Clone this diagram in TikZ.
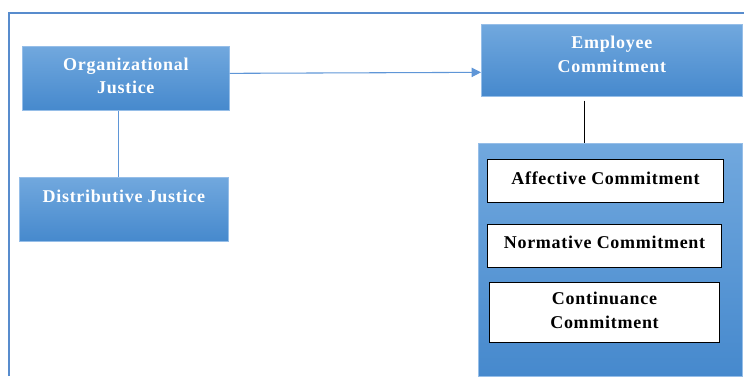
\documentclass[tikz,border=0pt]{standalone}
\usepackage{fontspec}
\setmainfont{Liberation Serif}
\usetikzlibrary{arrows.meta,positioning}
\definecolor{boxtop}{RGB}{113,168,222}
\definecolor{boxbottom}{RGB}{70,137,205}
\definecolor{boxedge}{RGB}{150,190,232}
\definecolor{framecol}{RGB}{88,140,205}
\definecolor{linkcol}{RGB}{95,150,215}
\newcommand{\boxfont}{\bfseries\fontsize{13.5}{17.8}\selectfont\addfontfeatures{LetterSpace=4}}
\tikzset{
  bluebox/.style={rectangle, top color=boxtop, bottom color=boxbottom,
    draw=boxedge, line width=0.5pt, text=white, align=center,
    font=\boxfont, inner sep=0pt, anchor=north west},
  whitebox/.style={rectangle, fill=white, draw=black, line width=0.8pt,
    text=black, align=center, text depth=5pt,
    font=\boxfont, inner sep=0pt, anchor=north west},
  link/.style={draw=linkcol, line width=0.8pt}
}
\begin{document}
\begin{tikzpicture}[x=0.75pt,y=-0.75pt]
\useasboundingbox (0,0) rectangle (744,376);
% Frame
\draw[framecol, line width=1.5pt] (9,376) -- (9,13) -- (744,13);
% Justice side
\node[bluebox, minimum width=155.25pt, minimum height=48pt, text depth=4pt] (orgjust) at (22,46) {Organizational\\Justice};
\node[bluebox, minimum width=156.75pt, minimum height=48pt, text depth=19.5pt] (distjust) at (19,177) {Distributive Justice};
% Commitment side
\node[bluebox, minimum width=195.75pt, minimum height=54pt, text depth=9pt] (empcom) at (481,24) {Employee\\Commitment};
\node[bluebox, minimum width=198pt, minimum height=174.75pt] (comgroup) at (478,143) {};
\node[whitebox, minimum width=177pt, minimum height=32.25pt] (affcom) at (487,159) {Affective Commitment};
\node[whitebox, minimum width=175.5pt, minimum height=32.25pt] (normcom) at (487,224) {Normative Commitment};
\node[whitebox, minimum width=172.5pt, minimum height=45pt, text depth=3pt] (contcom) at (489,282) {Continuance\\Commitment};
% Links
\draw[link, -{Triangle[length=7pt,width=7pt]}] ([yshift=3.75pt]orgjust.east) -- ([yshift=-9pt]empcom.west);
\draw[link] ([xshift=-5.6pt]orgjust.south) -- ([xshift=-5.6pt]orgjust.south |- distjust.north);
\draw[black, line width=0.8pt] ([xshift=-20.6pt,yshift=-3pt]empcom.south) -- ([xshift=-20.6pt]empcom.south |- comgroup.north);
\end{tikzpicture}
\end{document}
